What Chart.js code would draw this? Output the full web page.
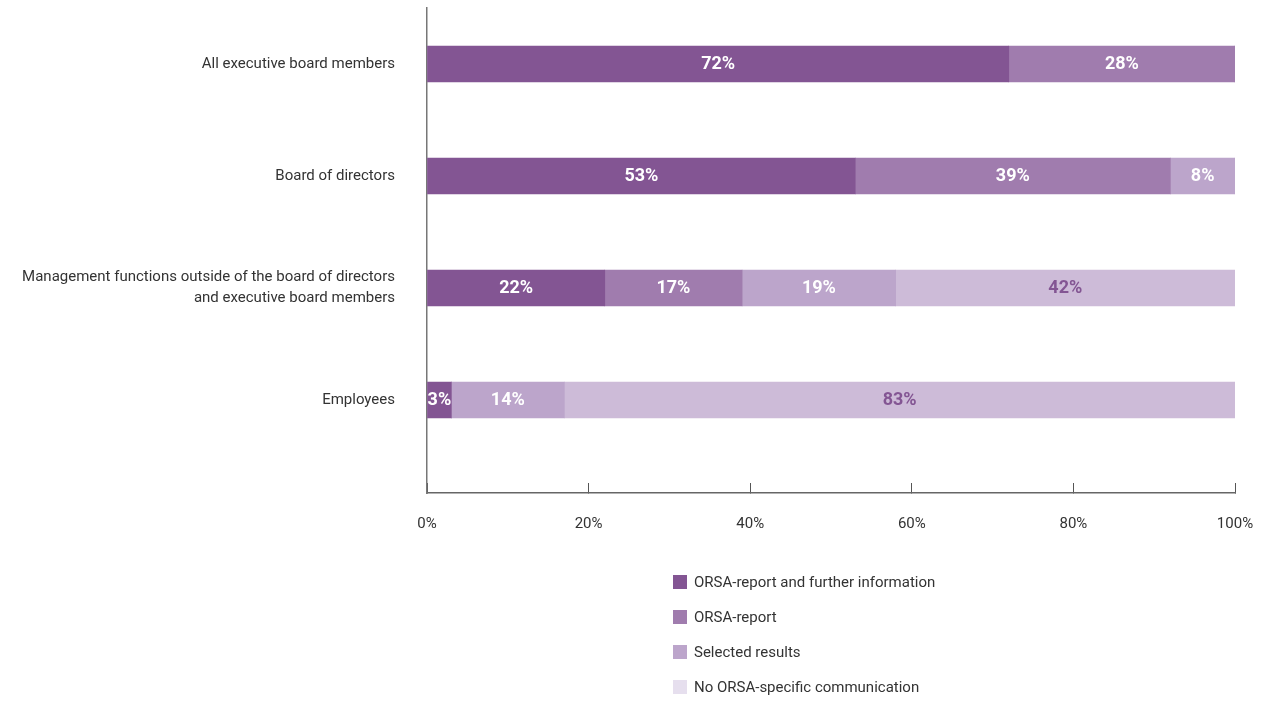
<!DOCTYPE html>
<html>
<head>
<meta charset="utf-8">
<script src="https://cdn.jsdelivr.net/npm/chart.js@4.4.1/dist/chart.umd.min.js"></script>
<style>
  body { margin: 0; background: #fff; }
  #wrap { position: relative; width: 1264px; height: 702px; }
  #legend { position: absolute; left: 673px; top: 564px; font: 15px Roboto, sans-serif; color: #333; }
  .item { display: flex; align-items: center; height: 35px; }
  .box { width: 14px; height: 14px; margin-right: 7px; }
</style>
</head>
<body>
<div id="wrap">
  <canvas id="chart" width="1264" height="702"></canvas>
  <div id="legend"></div>
</div>
<script>
const FONT = "Roboto, sans-serif";

const categories = [
    "All executive board members",
    "Board of directors",
    ["Management functions outside of the board of directors", "and executive board members"],
    "Employees"
];
const seriesNames = [
    "ORSA-report and further information",
    "ORSA-report",
    "Selected results",
    "No ORSA-specific communication"
];
const fullInfo = [72, 53, 22, 3];
const report = [28, 39, 17, 0];
const selected = [0, 8, 19, 14];
const noComm = [0, 0, 42, 83];
const xTicks = [0, 20, 40, 60, 80, 100];

const barColors = ["#835593", "#a07cae", "#bca5cb", "#cdbbd8"];
const legendColors = ["#835593", "#a07cae", "#bca5cb", "#e6dfee"];
const labelColors = ["#fff", "#fff", "#fff", "#835593"];

const series = [fullInfo, report, selected, noComm];

// draws the % inside each segment
const valueLabels = {
    id: "valueLabels",
    afterDatasetsDraw(chart) {
        const ctx = chart.ctx;
        ctx.save();
        ctx.font = "bold 18px " + FONT;
        ctx.textAlign = "center";
        ctx.textBaseline = "middle";
        chart.data.datasets.forEach((ds, i) => {
            const meta = chart.getDatasetMeta(i);
            meta.data.forEach((bar, j) => {
                const v = ds.data[j].x;
                if (!v) return;
                ctx.fillStyle = labelColors[i];
                ctx.fillText(v + "%", (bar.x + bar.base) / 2, bar.y);
            });
        });
        ctx.restore();
    }
};

const chart = new Chart(document.getElementById("chart"), {
    type: "bar",
    data: {
        datasets: series.map((vals, i) => ({
            label: seriesNames[i],
            data: vals.map((v, j) => ({ x: v, y: j })),
            backgroundColor: barColors[i],
            barThickness: 36
        }))
    },
    options: {
        indexAxis: "y",
        responsive: false,
        animation: false,
        layout: { autoPadding: false, padding: { top: 8, right: 29, bottom: 159, left: 0 } },
        plugins: {
            legend: { display: false },
            tooltip: { enabled: false }
        },
        scales: {
            x: {
                stacked: true,
                min: 0,
                max: 100,
                afterBuildTicks: s => { s.ticks = xTicks.map(v => ({ value: v })); },
                afterFit: s => { s.height = 50; s.paddingLeft = 0; s.paddingRight = 0; },
                grid: { drawOnChartArea: false, drawTicks: true, tickLength: -10, color: "#555", lineWidth: 1 },
                border: { color: "#666", width: 1.5 },
                ticks: {
                    padding: 32,
                    color: "#333",
                    font: { family: FONT, size: 15 },
                    callback: v => v + "%"
                }
            },
            y: {
                type: "linear",
                stacked: true,
                reverse: true,
                offset: false,
                bounds: "data",
                min: -0.5,
                max: 3.83,
                afterBuildTicks: s => { s.ticks = categories.map((_, i) => ({ value: i })); },
                afterFit: s => { s.width = 427; s.paddingTop = 0; s.paddingBottom = 0; },
                grid: { display: false, offset: false },
                border: { color: "#777", width: 1.5 },
                ticks: {
                    padding: 24,
                    color: "#333",
                    font: { family: FONT, size: 15, lineHeight: 1.4 },
                    callback: v => categories[v]
                }
            }
        }
    },
    plugins: [valueLabels]
});

// legend as a vertical list
const legend = document.getElementById("legend");
seriesNames.forEach((name, i) => {
    const item = document.createElement("div");
    item.className = "item";
    const box = document.createElement("span");
    box.className = "box";
    box.style.background = legendColors[i];
    const txt = document.createElement("span");
    txt.textContent = name;
    item.appendChild(box);
    item.appendChild(txt);
    legend.appendChild(item);
});
</script>
</body>
</html>
